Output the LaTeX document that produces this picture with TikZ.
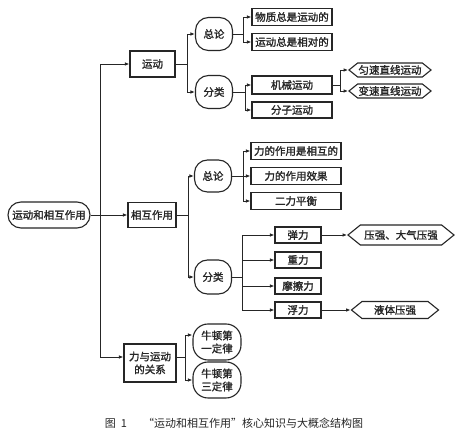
\documentclass[tikz,border=0pt]{standalone}
\usepackage{fontspec}
\usetikzlibrary{arrows.meta,shapes.symbols,calc}
\newfontfamily\cjk{Noto Sans CJK SC}
\newfontfamily\cjkb[FakeBold=1.6]{Noto Sans CJK SC}
\begin{document}
\begin{tikzpicture}[x=1pt,y=-1pt,
  base/.style={draw=black!85,line width=1.1pt,inner sep=0pt,align=center,
    font=\cjkb\fontsize{10.5}{12}\selectfont,text=black!85},
  boxnode/.style={base,rectangle},
  roundnode/.style={base,rectangle,rounded corners=13pt},
  hexnode/.style={base,signal,signal to=west and east,signal pointer angle=78},
  twoline/.style={font=\cjkb\fontsize{10.5}{13}\selectfont},
  conn/.style={draw=black!85,line width=0.9pt},
  arr/.style={conn,-{Latex[length=4.5pt,width=3.5pt]}}]
\useasboundingbox (0,0) rectangle (467,446);
\fill[white] (0,0) rectangle (467,446);

% main nodes
\node[roundnode,minimum width=82pt,minimum height=26pt] (root) at (49,215) {运动和相互作用};
\node[boxnode,minimum width=45pt,minimum height=26pt] (m1) at (152.5,64) {运动};
\node[boxnode,minimum width=48pt,minimum height=25pt] (m2) at (152,215) {相互作用};
\node[boxnode,twoline,minimum width=52pt,minimum height=38pt] (m3) at (150,363) {力与运动\\的关系};

\node[roundnode,minimum width=37pt,minimum height=33pt] (z1) at (214,34) {总论};
\node[roundnode,minimum width=37pt,minimum height=33pt] (f1) at (214,92) {分类};
\node[roundnode,minimum width=37pt,minimum height=32pt] (z2) at (213,176) {总论};
\node[roundnode,minimum width=37pt,minimum height=34pt] (f2) at (213,277) {分类};
\node[roundnode,twoline,minimum width=48pt,minimum height=36pt,rounded corners=15pt] (n1) at (217,342) {牛顿第\\一定律};
\node[roundnode,twoline,minimum width=48pt,minimum height=36pt,rounded corners=15pt] (n3) at (217,380) {牛顿第\\三定律};

% leaves
\node[boxnode,minimum width=80pt,minimum height=17pt] (a1) at (292,17) {物质总是运动的};
\node[boxnode,minimum width=80pt,minimum height=17pt] (a2) at (292,42) {运动总是相对的};
\node[boxnode,minimum width=80pt,minimum height=18pt] (b1) at (292,85) {机械运动};
\node[boxnode,minimum width=80pt,minimum height=16pt] (b2) at (292,110) {分子运动};
\node[hexnode,minimum width=82pt,minimum height=14pt] (h1) at (390,70) {匀速直线运动};
\node[hexnode,minimum width=82pt,minimum height=14pt] (h2) at (390,91) {变速直线运动};

\node[boxnode,minimum width=90pt,minimum height=17pt] (c1) at (296,151) {力的作用是相互的};
\node[boxnode,minimum width=90pt,minimum height=17pt] (c2) at (296,176) {力的作用效果};
\node[boxnode,minimum width=90pt,minimum height=17pt] (c3) at (296,201) {二力平衡};

\node[boxnode,minimum width=46pt,minimum height=16pt] (d1) at (298,235) {弹力};
\node[boxnode,minimum width=46pt,minimum height=16pt] (d2) at (298,260) {重力};
\node[boxnode,minimum width=46pt,minimum height=16pt] (d3) at (298,286) {摩擦力};
\node[boxnode,minimum width=46pt,minimum height=16pt] (d4) at (298,310) {浮力};
\node[hexnode,minimum width=106pt,minimum height=20pt] (h3) at (401,235) {压强、大气压强};
\node[hexnode,minimum width=87pt,minimum height=17pt] (h4) at (395,310) {液体压强};

% junction x positions
\coordinate (jt) at (100,0);
\coordinate (jm1) at (187,0);
\coordinate (jm2) at (188,0);
\coordinate (jm3) at (185,0);
\coordinate (jz1) at (243,0);
\coordinate (jf1) at (245,0);
\coordinate (jb1) at (340,0);
\coordinate (jz2) at (243,0);
\coordinate (jf2) at (242,0);

% trunk
\draw[arr] (root.east) -- (m2.west);
\draw[arr] (root.east -| jt) |- (m1.west);
\draw[arr] (root.east -| jt) |- ([yshift=6pt]m3.west);

% 运动
\draw[arr] (m1.east) -- (m1.east -| jm1) |- (z1.west);
\draw[arr] (m1.east -| jm1) |- (f1.west);
\draw[arr] (z1.east) -- (z1.east -| jz1) |- (a1.west);
\draw[arr] (z1.east -| jz1) |- (a2.west);
\draw[arr] (f1.east) -- (f1.east -| jf1) |- (b1.west);
\draw[arr] (f1.east -| jf1) |- (b2.west);
\draw[arr] (b1.east) -- (b1.east -| jb1) |- (h1.west);
\draw[arr] (b1.east -| jb1) |- (h2.west);

% 相互作用
\draw[arr] (m2.east) -- (m2.east -| jm2) |- (z2.west);
\draw[arr] (m2.east -| jm2) |- (f2.west);
\draw[arr] (z2.east) -- (z2.east -| jz2) |- (c1.west);
\draw[arr] (z2.east) -- (c2.west);
\draw[arr] (z2.east -| jz2) |- (c3.west);
\draw[arr] (f2.east) -- (f2.east -| jf2) |- (d1.west);
\draw[arr] (f2.east -| jf2) |- (d2.west);
\draw[arr] (f2.east -| jf2) |- (d3.west);
\draw[arr] (f2.east -| jf2) |- (d4.west);
\draw[arr] (d1.east) -- (h3.west);
\draw[arr] (d4.east) -- (h4.west);

% 力与运动的关系
\draw[arr] ([yshift=6pt]m3.east) -- ([yshift=6pt]m3.east -| jm3) |- ([yshift=7pt]n1.west);
\draw[arr] ([yshift=6pt]m3.east -| jm3) |- (n3.west);

% caption
\node[font=\cjk\fontsize{11}{13}\selectfont,text=black!85,inner sep=0pt] (cap) at (234,423)
  {图\hspace{5pt}1\hspace{16pt}“运动和相互作用”核心知识与大概念结构图};
\end{tikzpicture}
\end{document}
